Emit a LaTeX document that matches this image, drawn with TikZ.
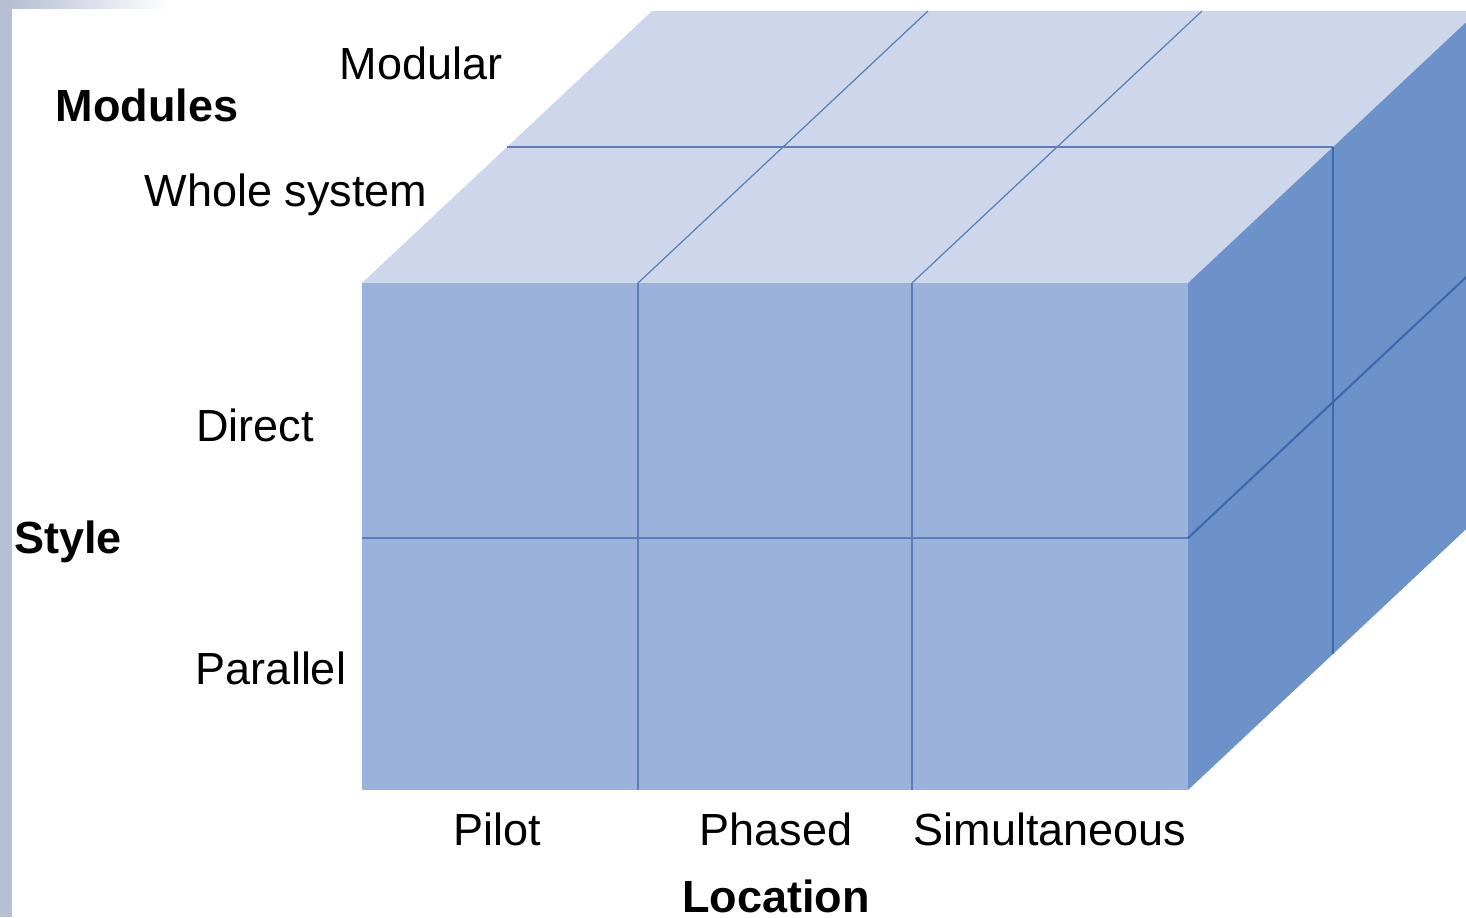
\documentclass[tikz,border=0pt]{standalone}
\usepackage{fontspec}
\setmainfont{Liberation Sans}
\usepackage{tikz}
\definecolor{topface}{HTML}{CDD6EA}
\definecolor{frontface}{HTML}{9BB3DC}
\definecolor{sideface}{HTML}{6D92CA}
\definecolor{gridline}{HTML}{5B7EB8}
\definecolor{sideline}{HTML}{3C69AE}
\definecolor{edgestrip}{HTML}{B6BFD3}
\tikzset{
	lbl/.style={font=\fontsize{12.8pt}{15pt}\selectfont, inner sep=0pt, anchor=base},
	axislbl/.style={lbl, font=\fontsize{12.8pt}{15pt}\selectfont\bfseries},
	grid/.style={line width=0.35pt, color=gridline},
	sidegrid/.style={line width=0.6pt, color=sideline}
}

\begin{document}
\begin{tikzpicture}[x=0.01cm, y=-0.01cm]
		%%%%% START %%%%%
		\useasboundingbox (0, 0) rectangle (1466, 917);
		\clip (0, 0) rectangle (1466, 917);
		
		% faces of the cube
		\fill[topface] (362, 283) -- (1188, 283) -- (1478, 11) -- (652, 11) -- cycle;
		\fill[sideface] (1188, 283) -- (1478, 11) -- (1478, 518) -- (1188, 790) -- cycle;
		\fill[frontface] (362, 283) rectangle (1188, 790);
		
		% grid on the front
		\foreach \x in {638, 912}
			\draw[grid] (\x, 283) -- (\x, 790);
		\draw[grid] (362, 538) -- (1188, 538);
		
		% grid on the top
		\foreach \x in {638, 912}
			\draw[grid] (\x, 283) -- (\x+290, 11);
		\draw[grid] (507, 147) -- (1333, 147);
		
		% grid on the side
		\draw[sidegrid] (1333, 147) -- (1333, 654);
		\draw[sidegrid] (1188, 538) -- (1478, 266);
		
		% page edges
		\fill[white] (0, 0) rectangle (1466, 9);
		\fill[edgestrip] (0, 0) rectangle (12, 917);
		\shade[left color=edgestrip, right color=white] (12, 0) rectangle (170, 8);
		
		% labels
		\node[axislbl] (modules) at (147, 121) {Modules};
		\node[lbl] (modular) at (421, 79) {Modular};
		\node[lbl] (whole) at (286, 206) {Whole system};
		
		\node[axislbl] (style) at (68, 553) {Style};
		\node[lbl] (direct) at (255, 441) {Direct};
		\node[lbl] (parallel) at (271, 684) {Parallel};
		
		\node[lbl] (pilot) at (497, 845) {Pilot};
		\node[lbl] (phased) at (776, 845) {Phased};
		\node[lbl] (simult) at (1050, 845) {Simultaneous};
		\node[axislbl] (location) at (776, 912) {Location};
		%%%%% END %%%%%
	\end{tikzpicture}
\end{document}
